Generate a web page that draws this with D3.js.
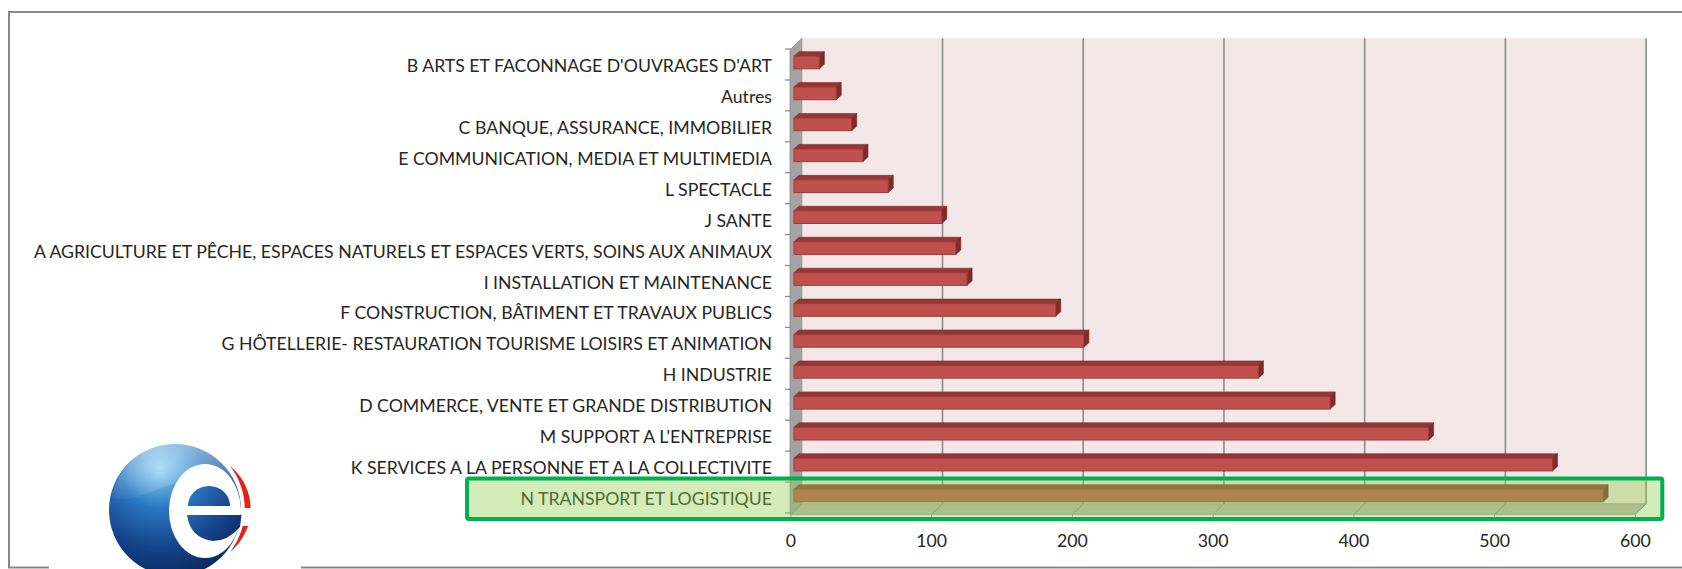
<!DOCTYPE html>
<html>
<head>
<meta charset="utf-8">
<script src="https://cdn.jsdelivr.net/npm/d3@7"></script>
<style>
  html, body { margin: 0; padding: 0; background: #fff; }
  #drawing-area { width: 1682px; height: 569px; }
  text { font-family: Lato, "Liberation Sans", sans-serif; }
</style>
</head>
<body>
<div id="drawing-area"></div>
<script>

var categories = [
    "B ARTS ET FACONNAGE D'OUVRAGES D'ART",
    "Autres",
    "C BANQUE, ASSURANCE, IMMOBILIER",
    "E COMMUNICATION, MEDIA ET MULTIMEDIA",
    "L SPECTACLE",
    "J SANTE",
    "A AGRICULTURE ET PÊCHE, ESPACES NATURELS ET ESPACES VERTS, SOINS AUX ANIMAUX",
    "I INSTALLATION ET MAINTENANCE",
    "F CONSTRUCTION, BÂTIMENT ET TRAVAUX PUBLICS",
    "G HÔTELLERIE- RESTAURATION TOURISME LOISIRS ET ANIMATION",
    "H INDUSTRIE",
    "D COMMERCE, VENTE ET GRANDE DISTRIBUTION",
    "M SUPPORT A L'ENTREPRISE",
    "K SERVICES A LA PERSONNE ET A LA COLLECTIVITE",
    "N TRANSPORT ET LOGISTIQUE"
];
var values = [18, 30, 41, 49, 67, 105, 115, 123, 186, 206, 330, 381, 451, 539, 575];
var xTicks = [0, 100, 200, 300, 400, 500, 600];
var highlighted = "N TRANSPORT ET LOGISTIQUE";

function hbar3d(cats, vals) {
    var sx = 1682, sy = 569;
    var svg = d3.select('#drawing-area').append('svg').attr('width', sx).attr('height', sy);

    // 3d look: depth vector of the box
    var depth = { dx: 10.8, dy: -10.8 };
    var barFront = { dx: 3, dy: -2 };
    var barSide = { dx: 5, dy: -4.5 };
    var floorY = 514.5;
    var labelX = 772;
    var fs = "17.7px";

    var x = d3.scaleLinear().domain([0, 600]).range([791, 1635.3]);
    var y = d3.scaleBand().domain(cats).range([49, 513]).padding(0);
    var bw = y.bandwidth();
    var barH = bw * 0.41;

    function pts(a) {
        return a.map(function (p) { return p[0] + "," + p[1]; }).join(" ");
    }

    // outer frame
    svg.append("rect")
        .attr("x", 9).attr("y", 12).attr("width", sx).attr("height", 555.5)
        .attr("fill", "none").attr("stroke", "#888").attr("stroke-width", 2);

    // back wall
    var bx0 = x(0) + depth.dx, bx1 = x(600) + depth.dx;
    var by0 = y.range()[0] + depth.dy, by1 = floorY + depth.dy;
    svg.append("rect")
        .attr("x", bx0).attr("y", by0).attr("width", bx1 - bx0).attr("height", by1 - by0)
        .attr("fill", "#f3e7e7");

    // left wall
    svg.append("polygon")
        .attr("points", pts([[x(0) - 1, y.range()[0] + 1], [bx0, by0], [bx0, by1], [x(0) - 1, floorY]]))
        .attr("fill", "#a3a3a3").attr("stroke", "#8c8c8c").attr("stroke-width", 0.8);

    // floor
    svg.append("polygon")
        .attr("points", pts([[x(0), floorY], [x(600), floorY], [bx1, by1], [bx0, by1]]))
        .attr("fill", "#bdb3b4").attr("stroke", "#9a9a9a").attr("stroke-width", 0.8);

    // gridlines on the wall and the floor
    xTicks.forEach(function (t) {
        if (t > 0) {
            svg.append("line")
                .attr("x1", x(t) + depth.dx).attr("x2", x(t) + depth.dx)
                .attr("y1", by0).attr("y2", by1)
                .attr("stroke", "#8c8c8c").attr("stroke-width", 1.6);
        }
        svg.append("line")
            .attr("x1", x(t)).attr("y1", floorY)
            .attr("x2", x(t) + depth.dx).attr("y2", by1)
            .attr("stroke", "#8c8c8c").attr("stroke-width", 1);
        svg.append("line")
            .attr("x1", x(t)).attr("x2", x(t))
            .attr("y1", floorY).attr("y2", floorY + 3)
            .attr("stroke", "#8c8c8c").attr("stroke-width", 1);
        svg.append("text")
            .attr("x", x(t)).attr("y", 540)
            .attr("text-anchor", "middle").attr("dominant-baseline", "central")
            .attr("font-size", fs).attr("fill", "#262626")
            .text(t);
    });

    // category axis ticks (front edge of left wall)
    var tk = y.domain().map(function (c) { return y(c); }).concat([y.range()[1]]);
    tk.forEach(function (t) {
        svg.append("line")
            .attr("x1", x(0) - 6).attr("x2", x(0))
            .attr("y1", t).attr("y2", t)
            .attr("stroke", "#8c8c8c").attr("stroke-width", 1.3);
    });

    // bars
    for (var i = 0; i < cats.length; i++) {
        var c = cats[i];
        var xa = x(0) + barFront.dx;
        var xe = x(vals[i]) + barFront.dx;
        var yt = y(c) + bw / 2 - barH / 2 + barFront.dy;
        var yb = yt + barH;

        svg.append("polygon")
            .attr("points", pts([[xa, yt], [xe, yt], [xe + barSide.dx, yt + barSide.dy], [xa + barSide.dx, yt + barSide.dy]]))
            .attr("fill", "#953735").attr("stroke", "#7a2a28").attr("stroke-width", 0.6);
        svg.append("polygon")
            .attr("points", pts([[xe, yt], [xe + barSide.dx, yt + barSide.dy], [xe + barSide.dx, yb + barSide.dy], [xe, yb]]))
            .attr("fill", "#7f2b29").attr("stroke", "#6d2220").attr("stroke-width", 0.6);
        svg.append("rect")
            .attr("x", xa).attr("y", yt).attr("width", xe - xa).attr("height", barH)
            .attr("fill", "#c0504d").attr("stroke", "#9a3b39").attr("stroke-width", 1);

        svg.append("text")
            .attr("x", labelX).attr("y", y(c) + bw / 2 + 1)
            .attr("text-anchor", "end").attr("dominant-baseline", "central")
            .attr("font-size", fs).attr("fill", "#262626")
            .text(c);
    }

    // highlight box around one category
    var hy0 = y(highlighted) - 3.5;
    var hy1 = floorY + 4.5;
    var hx0 = labelX - 305;
    var hx1 = x(600) + 27;
    svg.append("rect")
        .attr("x", hx0).attr("y", hy0).attr("width", hx1 - hx0).attr("height", hy1 - hy0)
        .attr("rx", 2)
        .attr("fill", "rgb(146,208,80)").attr("fill-opacity", 0.4)
        .attr("stroke", "#00b050").attr("stroke-width", 4);

    // logo (white card hides the frame behind it)
    var defs = svg.append("defs");
    var g1 = defs.append("radialGradient").attr("id", "sphere")
        .attr("gradientUnits", "userSpaceOnUse")
        .attr("cx", 160).attr("cy", 468).attr("r", 115);
    g1.append("stop").attr("offset", "0%").attr("stop-color", "#8fd4f5");
    g1.append("stop").attr("offset", "35%").attr("stop-color", "#2b78c0");
    g1.append("stop").attr("offset", "70%").attr("stop-color", "#14428a");
    g1.append("stop").attr("offset", "100%").attr("stop-color", "#0b2558");
    var g2 = defs.append("linearGradient").attr("id", "gloss")
        .attr("x1", "0").attr("y1", "0").attr("x2", "0").attr("y2", "1");
    g2.append("stop").attr("offset", "0%").attr("stop-color", "#fff").attr("stop-opacity", 0.45);
    g2.append("stop").attr("offset", "100%").attr("stop-color", "#fff").attr("stop-opacity", 0.05);
    var cp = defs.append("clipPath").attr("id", "redcut");
    cp.append("rect").attr("x", 200).attr("y", 440).attr("width", 80).attr("height", 68);
    cp.append("rect").attr("x", 200).attr("y", 526).attr("width", 80).attr("height", 50);

    var logo = svg.append("g");
    logo.append("rect").attr("x", 49).attr("y", 420).attr("width", 252).attr("height", 149).attr("fill", "#fff");
    logo.append("circle").attr("cx", 175).attr("cy", 510).attr("r", 66).attr("fill", "url(#sphere)");
    logo.append("path")
        .attr("d", "M 112 498 A 64 64 0 0 1 238 494 Q 200 470 150 492 Q 128 502 112 498 Z")
        .attr("fill", "url(#gloss)");
    logo.append("path")
        .attr("d", "M 230 466 A 55 55 0 0 1 230 552 A 70 70 0 0 0 230 466 Z")
        .attr("fill", "#e2231a").attr("clip-path", "url(#redcut)");
    // the white "e"
    logo.append("ellipse")
        .attr("cx", 205).attr("cy", 511).attr("rx", 36).attr("ry", 47)
        .attr("fill", "#fff");
    logo.append("path")
        .attr("d", "M 188 506 A 21 20 0 0 1 230 506 Z")
        .attr("fill", "url(#sphere)");
    logo.append("path")
        .attr("d", "M 187 515 L 241.5 515 L 240 527 Q 228 541 213 541 Q 190 538 187 515 Z")
        .attr("fill", "url(#sphere)");
}

hbar3d(categories, values);

</script>
</body>
</html>
